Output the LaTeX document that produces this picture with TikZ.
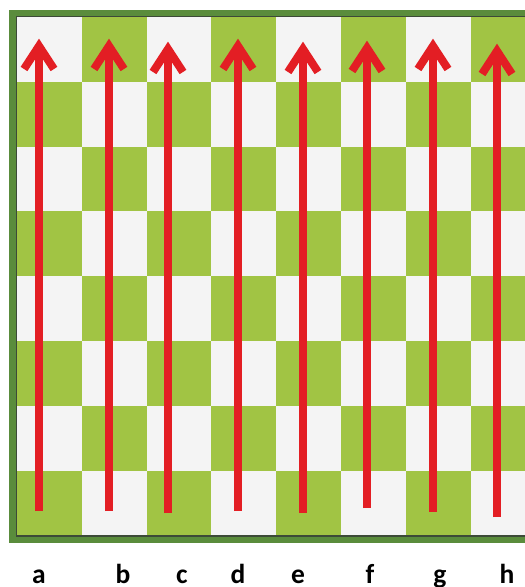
\documentclass[tikz,border=0pt]{standalone}
\usepackage{fontspec}
\newfontfamily\labelfont{Carlito}
\definecolor{boardgreen}{HTML}{5A8C3C}
\definecolor{sqgreen}{HTML}{A1C444}
\definecolor{sqlight}{HTML}{F4F4F4}
\definecolor{arrowred}{HTML}{E31E24}
\definecolor{edgeline}{HTML}{3C4A38}
\tikzset{
  shaft/.style={draw=arrowred, line width=8.5pt, line cap=butt},
  barb/.style={draw=arrowred, line width=8pt, line cap=butt, line join=miter},
  filelabel/.style={anchor=base, inner sep=0pt, font=\labelfont\bfseries\fontsize{27.5}{30}\selectfont, text=black},
}
\begin{document}
\begin{tikzpicture}[x=1pt,y=-1pt]
\useasboundingbox (0,0) rectangle (525,587);
\clip (0,0) rectangle (525,587);
\fill[white] (0,0) rectangle (525,587);
% frame
\fill[boardgreen] (9,10) rectangle (545,543);
\fill[edgeline] (15.5,15.5) rectangle (537,537);
% squares
\foreach \i in {0,...,7}{
  \foreach \j in {0,...,7}{
    \pgfmathtruncatemacro{\sqpar}{mod(\i+\j,2)}
    \ifnum\sqpar=1
      \fill[sqgreen] ({17+64.81*\i},{17+64.81*\j}) rectangle ++(64.81,64.81);
    \else
      \fill[sqlight] ({17+64.81*\i},{17+64.81*\j}) rectangle ++(64.81,64.81);
    \fi
  }
}
% arrows
\foreach \n/\x/\t/\b in {a/39/38/511, b/109/38/511, c/168/41/513, d/238/38/511, e/303/41/513, f/367/40/508, g/433/38/512, h/497/43/517}{
  \coordinate (\n bot) at (\x,\b);
  \coordinate (\n top) at (\x,\t+8);
  \draw[shaft] (\n bot) -- (\n top);
  \draw[barb] ([shift={(-15,23)}]\n top) -- (\n top) -- ++(15,23);
}
% labels
\foreach \n/\x in {a/39, b/123, c/182, d/238, e/298, f/370, g/440, h/507}{
  \node[filelabel] (lab\n) at (\x,583) {\n};
}
\end{tikzpicture}
\end{document}
